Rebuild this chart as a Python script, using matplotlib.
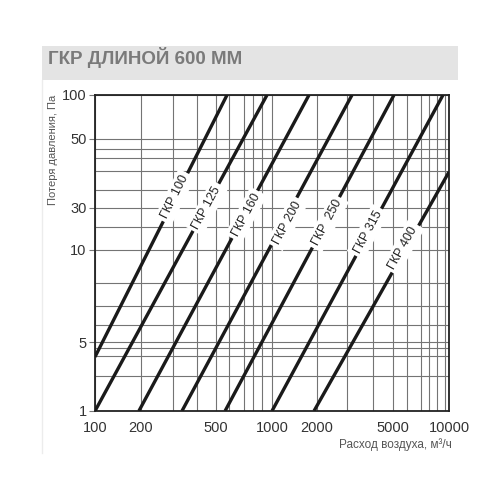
import math
import matplotlib
matplotlib.use('Agg')
import matplotlib.pyplot as plt
from matplotlib.patches import Rectangle
from matplotlib.lines import Line2D
from matplotlib.ticker import NullFormatter

plt.rcParams['font.family'] = ['Liberation Sans', 'DejaVu Sans']

# duct sizes and their curves (flow m3/h -> pressure loss Pa)
sizes = ['ГКР 100', 'ГКР 125', 'ГКР 160', 'ГКР 200', 'ГКР  250', 'ГКР 315', 'ГКР 400']
flow_start = [100, 100, 177, 310, 543, 1000, 1727]
dp_start = [2.2, 1, 1, 1, 1, 1, 1]
flow_end = [557, 937, 1618, 2831, 4888, 9248, 10000]
dp_end = [100, 100, 100, 100, 100, 100, 32.6]

# where the size labels sit on each curve
label_flow = [283, 429, 713, 1216, 2046, 3485, 5499]
label_dp = [22.6, 19.3, 17.4, 15.5, 15.5, 13.6, 10.8]

# grid as drawn in the original
x_grid = [182, 276, 377, 483, 571, 695, 781, 878, 1000,
          1795, 2654, 3722, 4826, 5790, 6950, 7707, 8555, 9495]
y_grid = [52.7, 45.5, 39.9, 33.0, 25.0, 19.3, 14.6, 10.45,
          6.46, 4.62, 3.50, 2.73, 2.50, 2.23, 1.67]

x_tick_pos = [100, 182, 483, 1000, 1795, 4826, 10000]
x_tick_lab = ['100', '200', '500', '1000', '2000', '5000', '10000']
y_tick_pos = [1, 2.73, 10.45, 19.3, 52.7, 100]
y_tick_lab = ['1', '5', '10', '30', '50', '100']

fig = plt.figure(figsize=(5, 5), dpi=100)

# title band
fig.patches.append(Rectangle((42 / 500, 1 - 80 / 500), 416 / 500, 34 / 500,
                             transform=fig.transFigure, facecolor='#e4e4e4',
                             edgecolor='none', zorder=0))
fig.text(48 / 500, 1 - 57 / 500, 'ГКР ДЛИНОЙ 600 ММ', fontsize=13.5,
         fontweight='bold', color='#7a7a7a', va='center', ha='left')
fig.lines.append(Line2D([42 / 500, 42 / 500], [1 - 80 / 500, 1 - 453 / 500],
                        transform=fig.transFigure, color='#ececec', lw=1))

ax = fig.add_axes([95 / 500, 89 / 500, 354 / 500, 316 / 500])
ax.set_xscale('log')
ax.set_yscale('log')
ax.set_xlim(100, 10000)
ax.set_ylim(1, 100)

ax.set_xticks(x_grid, minor=True)
ax.set_yticks(y_grid, minor=True)
ax.set_xticks(x_tick_pos, labels=x_tick_lab)
ax.set_yticks(y_tick_pos, labels=y_tick_lab)
ax.xaxis.set_minor_formatter(NullFormatter())
ax.yaxis.set_minor_formatter(NullFormatter())
ax.tick_params(which='minor', length=0)
ax.tick_params(axis='x', which='major', length=0, pad=7, labelsize=10.5, labelcolor='#333333')
ax.tick_params(axis='y', which='major', length=4, width=0.8, color='#777777', pad=2,
               labelsize=10.5, labelcolor='#333333')
ax.grid(True, which='both', color='#747474', lw=0.8)
ax.set_axisbelow(True)
for s in ax.spines.values():
    s.set_color('#222222')
    s.set_linewidth(1.3)

for i in range(len(sizes)):
    ax.plot([flow_start[i], flow_end[i]], [dp_start[i], dp_end[i]],
            color='#1a1a1a', lw=2.4, solid_capstyle='butt', zorder=3)

fig.canvas.draw()
for i in range(len(sizes)):
    p0 = ax.transData.transform((flow_start[i], dp_start[i]))
    p1 = ax.transData.transform((flow_end[i], dp_end[i]))
    ang = math.degrees(math.atan2(p1[1] - p0[1], p1[0] - p0[0]))
    ax.text(label_flow[i], label_dp[i], sizes[i], rotation=ang, rotation_mode='anchor',
            ha='center', va='center', fontsize=9, color='#222222', zorder=4,
            bbox=dict(facecolor='white', edgecolor='none', pad=2.5))

fig.text(53 / 500, 1 - 150 / 500, 'Потеря давления, Па', rotation=90,
         fontsize=8, color='#555555', ha='center', va='center')
fig.text(452 / 500, 1 - 445 / 500, 'Расход воздуха, м³/ч',
         fontsize=8.5, color='#555555', ha='right', va='center')

fig.savefig('out.png', dpi=100, facecolor='white')
